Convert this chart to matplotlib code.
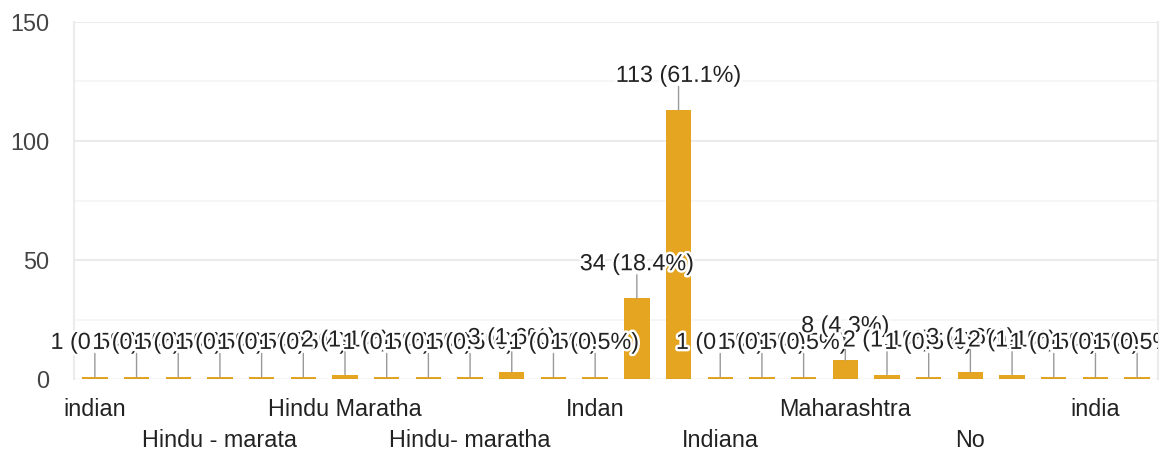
import numpy as np
import matplotlib
matplotlib.use('Agg')
import matplotlib.pyplot as plt
import matplotlib.patheffects as pe
from matplotlib.transforms import Bbox, TransformedBbox, ScaledTranslation

plt.rcParams['font.family'] = ['Liberation Sans', 'DejaVu Sans']

# 回答（只有每第三個類別名稱會顯示在圖上）
categories = ['indian', 'Hindu', 'hindu', 'Hindu - marata', 'Hindu - Maratha', 'Hindu Marata',
              'Hindu Maratha', 'Hindu maratha', 'Hindu, Maratha', 'Hindu- maratha', 'Hindu-Maratha',
              'Hindu Indian', 'Indan', 'HINDU', 'Indian', 'Indiana', 'Indian Hindu', 'Kunbi',
              'Maharashtra', 'Maharashtrian', 'Marathi', 'No', 'Nothing', 'Open', 'india', 'indian hindu']
counts = [1, 1, 1, 1, 1, 1, 2, 1, 1, 1, 3, 1, 1, 34, 113, 1, 1, 1, 8, 2, 1, 3, 2, 1, 1, 1]
y_ticks = [0, 50, 100, 150]
y_minor = [25, 75, 125]

bar_color = '#e6a521'
text_color = '#222222'
fs = 16.8

W, H = 1167, 451
fig = plt.figure(figsize=(W / 100, H / 100), dpi=100)
ax = fig.add_axes([74 / W, (H - 379.3) / H, (1158 - 74) / W, (379.3 - 21.7) / H])

x = np.arange(len(categories))
total = sum(counts)

# 格線
for g in y_ticks[1:]:
    ax.axhline(g, color='#ebebeb', lw=1.5, zorder=0)
for g in y_minor:
    ax.axhline(g, color='#f5f5f5', lw=1.2, zorder=0)

ax.bar(x, counts, width=0.61, color=bar_color, zorder=2)
# 基線稍微往下移，讓數量 1 的長條看得見
base = ax.axhline(0, color='#333333', lw=1.5, zorder=3)
base.set_transform(base.get_transform() + ScaledTranslation(0, -1 / 100, fig.dpi_scale_trans))

ax.set_xlim(-0.5, len(categories) - 0.5)
ax.set_ylim(0, 150)
ax.set_yticks(y_ticks)
ax.set_xticks([])
ax.tick_params(axis='y', length=0, pad=18, labelsize=fs, labelcolor='#444444')
for s in ['top', 'bottom']:
    ax.spines[s].set_visible(False)
for s in ['left', 'right']:
    ax.spines[s].set_color('#ebebeb')
    ax.spines[s].set_linewidth(1.5)

# 標籤只在右側被裁掉
clip = TransformedBbox(Bbox.from_extents(0, 0, 1158 / W, 1), fig.transFigure)

for i, v in enumerate(counts):
    ax.annotate('', xy=(i, v), xytext=(0, 23.5), textcoords='offset pixels',
                arrowprops=dict(arrowstyle='-', color='#999999', lw=1, shrinkA=0, shrinkB=0),
                zorder=4 + i)
    t = ax.annotate(f'{v} ({v / total * 100:.1f}%)', xy=(i, v), xytext=(0, 28),
                    textcoords='offset pixels', ha='center', va='baseline',
                    fontsize=fs, color=text_color, zorder=4 + i,
                    path_effects=[pe.withStroke(linewidth=3.5, foreground='white')])
    t.set_clip_box(clip)
    t.set_clip_on(True)

# 類別名稱：每三個顯示一個，兩排交錯
for k, i in enumerate(range(0, len(categories), 3)):
    off = -36.4 if k % 2 == 0 else -67.4
    ax.annotate(categories[i], xy=(i, 0), xytext=(0, off), textcoords='offset pixels',
                ha='center', va='baseline', fontsize=fs, color=text_color, annotation_clip=False)

fig.savefig('out.png', dpi=100)
